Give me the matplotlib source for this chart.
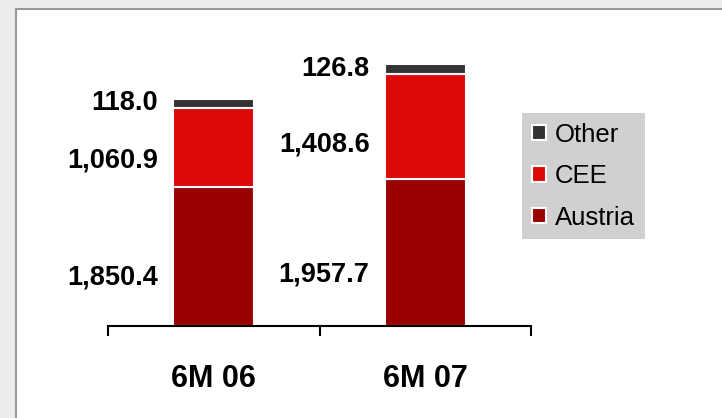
import matplotlib
matplotlib.use("Agg")
import matplotlib.pyplot as plt
from matplotlib.patches import Rectangle
import numpy as np

plt.rcParams["font.family"] = ["Liberation Sans", "DejaVu Sans"]

# dati
periodi = ["6M 06", "6M 07"]
austria = [1850.4, 1957.7]
cee = [1060.9, 1408.6]
altro = [118.0, 126.8]
etichette_austria = ["1,850.4", "1,957.7"]
etichette_cee = ["1,060.9", "1,408.6"]
etichette_altro = ["118.0", "126.8"]

col_austria = "#990000"
col_cee = "#dd0808"
col_altro = "#333333"

fig = plt.figure(figsize=(7.22, 4.18), dpi=100)
fig.patch.set_facecolor("#ececec")
# pannello bianco con bordo grigio
fig.patches.append(Rectangle((16 / 722, -0.1), 1.2, 1 - 9 / 418 + 0.1,
                             transform=fig.transFigure, facecolor="white",
                             edgecolor="#999999", linewidth=1.5, zorder=-10))

ax = fig.add_axes([108 / 722, 92 / 418, 423 / 722, (326 - 26) / 418])
ax.set_facecolor("none")

x = np.arange(len(periodi))
w = 0.383
a = np.array(austria)
c = np.array(cee)
o = np.array(altro)

b1 = ax.bar(x, a, w, color=col_austria, edgecolor="white", linewidth=1.5, label="Austria")
b2 = ax.bar(x, c, w, bottom=a, color=col_cee, edgecolor="white", linewidth=1.5, label="CEE")
b3 = ax.bar(x, o, w, bottom=a + c, color=col_altro, edgecolor="white", linewidth=1.5, label="Other")

ax.set_xlim(-0.5, 1.5)
ax.set_ylim(0, 4000)

# etichette a sinistra delle barre
xl = x - w / 2 - 0.072
kw = dict(ha="right", va="center", fontsize=19.5, fontweight="bold", color="black")
for i in range(len(x)):
    ax.text(xl[i], a[i] * 0.35, etichette_austria[i], **kw)
    ax.text(xl[i], a[i] + c[i] * 0.33, etichette_cee[i], **kw)
    ax.text(xl[i], a[i] + c[i] + o[i] * 0.5, etichette_altro[i], **kw)

for s in ["top", "left", "right"]:
    ax.spines[s].set_visible(False)
ax.spines["bottom"].set_linewidth(1.5)
ax.set_yticks([])
ax.set_xticks(x)
ax.set_xticklabels(periodi, fontsize=22, fontweight="bold")
ax.tick_params(axis="x", which="major", length=0, pad=27.5)
ax.set_xticks([-0.5, 0.5, 1.5], minor=True)
ax.tick_params(axis="x", which="minor", length=7.5, width=1.5, direction="out")

leg = ax.legend([b3, b2, b1], ["Other", "CEE", "Austria"],
                loc="upper left", bbox_to_anchor=(522 / 722, 1 - 113 / 418),
                bbox_transform=fig.transFigure, borderaxespad=0,
                fontsize=18.5, frameon=True, fancybox=False,
                handlelength=0.55, handleheight=0.55, handletextpad=0.36,
                labelspacing=0.68, borderpad=0.38)
leg.get_frame().set_facecolor("#d0d0d0")
leg.get_frame().set_edgecolor("none")
leg.get_frame().set_alpha(1)

fig.savefig("out.png", dpi=100, facecolor=fig.get_facecolor())
